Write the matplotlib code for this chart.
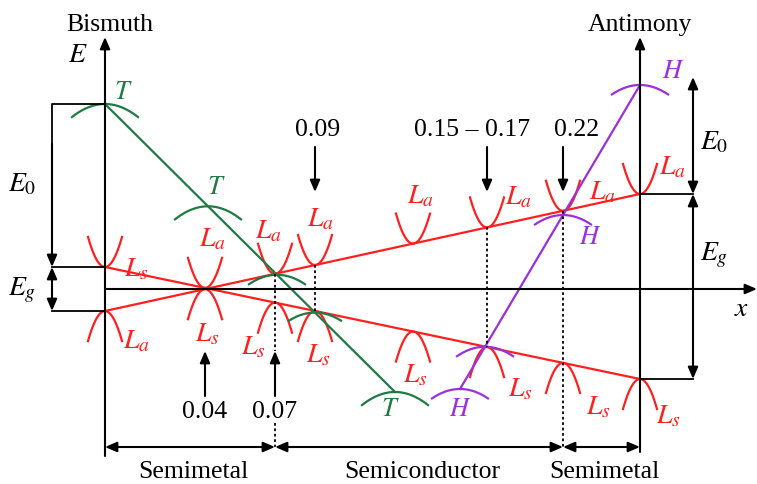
import numpy as np
import matplotlib
matplotlib.use("Agg")
import matplotlib.pyplot as plt

plt.rcParams['font.family'] = ['Liberation Serif', 'DejaVu Serif']
plt.rcParams['mathtext.fontset'] = 'stix'

# schematic coordinates: x = composition position, E = energy (0 on the x axis)
x_bi, x_sb = 105, 640
la_end = [-22, 95]      # L_a band edge at Bi, Sb
ls_end = [22, -90]      # L_s band edge at Bi, Sb
t_line = [(105, 185), (395, -103)]
h_line = [(640, 204), (460, -100)]

# positions where L parabolas are drawn
l_marks = [105, 205, 275, 315, 413, 487, 563, 640]
# T and H extrema along their lines
t_marks = [105, 208, 277, 315, 395]
t_width = [33, 33, 28, 26, 33]
h_marks = [640, 563, 485, 460]
h_width = [28, 28, 28, 28]

# compositions marked with arrows
top_marks = [315, 487, 563]
top_text = ["0.09", "0.15 \u2013 0.17", "0.22"]
top_text_shift = [3, -15, 14]
bot_marks = [205, 275]
bot_text = ["0.04", "0.07"]
regions = [(105, 275, "Semimetal"), (275, 563, "Semiconductor"), (563, 640, "Semimetal")]

RED = "#ff1f1f"
GREEN = "#1f7a44"
PURPLE = "#9b30d9"


def band(e, x):
    return e[0] + (e[1] - e[0]) * (x - x_bi) / (x_sb - x_bi)


def on_line(p, x):
    (x0, y0), (x1, y1) = p
    return y0 + (y1 - y0) * (x - x0) / (x1 - x0)


fig = plt.figure(figsize=(7.57, 4.85), dpi=100)
ax = fig.add_axes([0, 0, 1, 1])
ax.set_xlim(0, 757)
ax.set_ylim(-195, 290)
ax.axis('off')

arrow = dict(arrowstyle='-|>,head_length=0.7,head_width=0.3', color='black', lw=1.5,
             shrinkA=0, shrinkB=0)
darrow = dict(arrowstyle='<|-|>,head_length=0.7,head_width=0.3', color='black', lw=1.5,
              shrinkA=0, shrinkB=0)

# axes
ax.annotate("", xy=(x_bi, 252), xytext=(x_bi, -167), arrowprops=arrow)
ax.annotate("", xy=(x_sb, 252), xytext=(x_sb, -163), arrowprops=arrow)
ax.annotate("", xy=(757, 0), xytext=(x_bi, 0), arrowprops=arrow)
ax.text(x_bi + 5, 265, "Bismuth", fontsize=18.5, ha='center', va='center')
ax.text(x_sb, 265, "Antimony", fontsize=18.5, ha='center', va='center')
ax.text(78, 235, "$E$", fontsize=20, ha='center', va='center')
ax.text(742, -20, "$x$", fontsize=20, ha='center', va='center')

# red bands
xs = np.array([x_bi, x_sb])
ax.plot(xs, band(la_end, xs), color=RED, lw=1.6)
ax.plot(xs, band(ls_end, xs), color=RED, lw=1.6)
for xm in l_marks:
    up = max(band(la_end, xm), band(ls_end, xm))
    lo = min(band(la_end, xm), band(ls_end, xm))
    dx = np.linspace(-17, 17, 40)
    ax.plot(xm + dx, up + 0.104 * dx ** 2, color=RED, lw=1.6)
    ax.plot(xm + dx, lo - 0.104 * dx ** 2, color=RED, lw=1.6)

# T line
tx = np.array([t_line[0][0], t_line[1][0]])
ax.plot(tx, [t_line[0][1], t_line[1][1]], color=GREEN, lw=1.6)
for xm, w in zip(t_marks, t_width):
    dx = np.linspace(-w, w, 40)
    ax.plot(xm + dx, on_line(t_line, xm) - 0.012 * dx ** 2, color=GREEN, lw=1.6)

# H line
hx = np.array([h_line[0][0], h_line[1][0]])
ax.plot(hx, [h_line[0][1], h_line[1][1]], color=PURPLE, lw=1.6)
for xm, w in zip(h_marks, h_width):
    dx = np.linspace(-w, w, 40)
    ax.plot(xm + dx, on_line(h_line, xm) - 0.012 * dx ** 2, color=PURPLE, lw=1.6)

# band labels
lfs = 20
l_labels = [
    (136, 20, "$L_s$"), (136, -52, "$L_a$"),
    (212, 50, "$L_a$"), (207, -45, "$L_s$"),
    (268, 58, "$L_a$"), (253, -58, "$L_s$"),
    (320, 70, "$L_a$"), (318, -66, "$L_s$"),
    (420, 93, "$L_a$"), (415, -86, "$L_s$"),
    (518, 92, "$L_a$"), (520, -100, "$L_s$"),
    (602, 97, "$L_a$"), (598, -118, "$L_s$"),
    (672, 122, "$L_a$"), (668, -127, "$L_s$"),
]
for lx, ly, s in l_labels:
    ax.text(lx, ly, s, color=RED, fontsize=lfs, ha='center', va='center')

for lx, ly, s in [(123, 197, "$T$"), (216, 102, "$T$"), (390, -120, "$T$")]:
    ax.text(lx, ly, s, color=GREEN, fontsize=19, ha='center', va='center')
for lx, ly, s in [(673, 218, "$H$"), (590, 52, "$H$"), (460, -120, "$H$")]:
    ax.text(lx, ly, s, color=PURPLE, fontsize=19, ha='center', va='center')

# left energy brackets
e_t = t_line[0][1]
e_ls, e_la = ls_end[0], la_end[0]
ax.plot([x_bi, 52, 52], [e_t, e_t, e_ls + 10], color='black', lw=1.3)
ax.plot([52, x_bi], [e_ls, e_ls], color='black', lw=1.3)
ax.plot([52, x_bi], [e_la, e_la], color='black', lw=1.3)
ax.annotate("", xy=(52, e_ls), xytext=(52, e_t - 40), arrowprops=arrow)
ax.annotate("", xy=(52, e_la), xytext=(52, e_ls), arrowprops=darrow)
ax.text(22, 105, "$E_0$", fontsize=20, ha='center', va='center')
ax.text(22, 0, "$E_g$", fontsize=20, ha='center', va='center')

# right energy brackets
e_h = h_line[0][1]
e_la2, e_ls2 = la_end[1], ls_end[1]
ax.plot([x_sb, 693], [e_la2, e_la2], color='black', lw=1.3)
ax.plot([x_sb, 693], [e_ls2, e_ls2], color='black', lw=1.3)
ax.annotate("", xy=(693, e_h + 8), xytext=(693, e_la2), arrowprops=darrow)
ax.annotate("", xy=(693, e_la2), xytext=(693, e_ls2), arrowprops=darrow)
ax.text(714, 147, "$E_0$", fontsize=20, ha='center', va='center')
ax.text(714, 35, "$E_g$", fontsize=20, ha='center', va='center')

# composition arrows and dotted guides
for xm, s, sh in zip(top_marks, top_text, top_text_shift):
    ax.annotate("", xy=(xm, 97), xytext=(xm, 142), arrowprops=arrow)
    ax.text(xm + sh, 160, s, fontsize=18.5, ha='center', va='center')
for xm, s in zip(bot_marks, bot_text):
    ax.annotate("", xy=(xm, -62), xytext=(xm, -107), arrowprops=arrow)
    ax.text(xm, -122, s, fontsize=18.5, ha='center', va='center')

dot = dict(color='black', lw=1.3, ls=(0, (1.5, 1.5)))
ax.plot([275, 275], [band(la_end, 275), -62], **dot)
ax.plot([275, 275], [-134, -158], **dot)
ax.plot([315, 315], [band(la_end, 315), band(ls_end, 315)], **dot)
ax.plot([487, 487], [band(la_end, 487), band(ls_end, 487)], **dot)
ax.plot([563, 563], [band(la_end, 563), -158], **dot)

# region arrows
for x0, x1, s in regions:
    ax.annotate("", xy=(x1, -158), xytext=(x0, -158), arrowprops=darrow)
    ax.text((x0 + x1) / 2 + 3, -182, s, fontsize=18.5, ha='center', va='center')

fig.savefig("out.png", dpi=100)
